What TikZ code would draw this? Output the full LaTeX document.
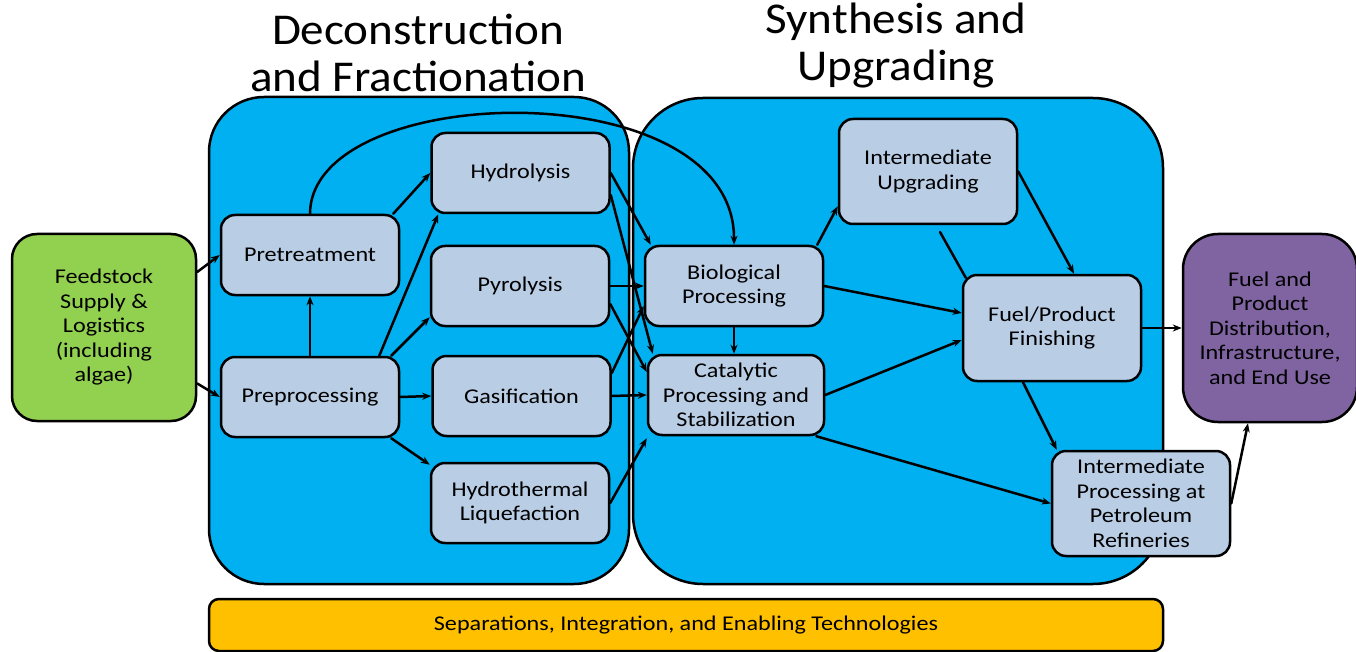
\documentclass[tikz,border=0pt]{standalone}
\usepackage{fontspec}
\setmainfont{Carlito}[FakeStretch=1.15]
\newfontfamily\headingfont{Carlito}[FakeStretch=1.07]
\usetikzlibrary{arrows.meta}
\definecolor{stagecyan}{HTML}{00B0F0}
\definecolor{procblue}{HTML}{B9CDE5}
\definecolor{feedgreen}{HTML}{92D050}
\definecolor{endpurple}{HTML}{8064A2}
\definecolor{baryellow}{HTML}{FFC000}
\tikzset{
proc/.style={draw, line width=2.5pt, rounded corners=14pt, fill=procblue, minimum width=178pt, minimum height=80pt, align=center, inner sep=2pt, font=\fontsize{21}{24.5}\selectfont},
stage/.style={draw, line width=2.5pt, fill=stagecyan},
flow/.style={->, line width=2.5pt},
heading/.style={align=center, font=\headingfont\fontsize{44}{47}\selectfont}
}

\begin{document}
\begin{tikzpicture}[x=1pt, y=-1pt, >={Stealth[length=9pt,width=7pt]}, line cap=round]
\useasboundingbox (0,0) rectangle (1356,652);
\draw [stage, rounded corners=55pt] (209,97) rectangle (629,584);
\draw [stage, rounded corners=70pt] (633,98) rectangle (1163,584);
\node [heading] (decon-title) at (418,53) {Deconstruction\\and Fractionation};
\node [heading] (synth-title) at (896,46) {Synthesis and\\Upgrading};
\node [proc, fill=feedgreen, rounded corners=25pt, minimum width=184pt, minimum height=187pt] (feedstock) at (104,327.5) {Feedstock\\Supply \&\\Logistics\\(including\\algae)};
\node [proc, fill=endpurple, rounded corners=35pt, minimum width=174pt, minimum height=188pt] (enduse) at (1270,328) {Fuel and\\Product\\Distribution,\\Infrastructure,\\and End Use};
\node [proc, fill=baryellow, rounded corners=10pt, minimum width=954pt, minimum height=52pt] (enabling) at (686,625) {Separations, Integration, and Enabling Technologies};
\node [proc] (pretreat) at (310,255) {Pretreatment};
\node [proc] (preproc) at (310,397) {Preprocessing};
\node [proc] (hydrolysis) at (520.5,173) {Hydrolysis};
\node [proc] (pyrolysis) at (520,286) {Pyrolysis};
\node [proc] (gasify) at (521.5,396) {Gasification};
\node [proc] (htl) at (520,503) {Hydrothermal\\Liquefaction};
\node [proc] (bioproc) at (734,286) {Biological\\Processing};
\node [proc, minimum width=176pt] (catproc) at (736,395) {Catalytic\\Processing and\\Stabilization};
\node [proc, minimum height=105pt] (interup) at (928,171.5) {Intermediate\\Upgrading};
\node [proc, minimum height=106pt] (finishing) at (1052,328) {Fuel/Product\\Finishing};
\node [proc, minimum height=105pt] (refinery) at (1141,503.5) {Intermediate\\Processing at\\Petroleum\\Refineries};
\coordinate (interup-foot) at (940,232);
\draw [flow] ([yshift=55.5pt]feedstock.east) -- (pretreat.west);
\draw [flow] ([yshift=-56pt]feedstock.east) -- (preproc.west);
\draw [flow] (preproc.north) -- (pretreat.south);
\draw [flow] ([xshift=-7pt]pretreat.north east) -- (hydrolysis.west);
\draw [flow] ([xshift=-21pt]preproc.north east) -- ([xshift=8pt]hydrolysis.south west);
\draw [flow] ([xshift=-9pt]preproc.north east) -- ([yshift=10pt]pyrolysis.south west);
\draw [flow] (preproc.east) -- (gasify.west);
\draw [flow] ([xshift=-9pt]preproc.south east) -- ([yshift=-3pt]htl.north west);
\draw [flow] (pretreat.north) .. controls (311,80) and (735,70) .. (bioproc.north);
\draw [flow] (hydrolysis.east) -- ([xshift=7pt]bioproc.north west);
\draw [flow] ([yshift=-22pt]hydrolysis.east) -- ([xshift=6pt]catproc.north west);
\draw [flow] (pyrolysis.east) -- (bioproc.west);
\draw [flow] ([yshift=-18pt]pyrolysis.east) -- ([yshift=23pt]catproc.west);
\draw [flow] ([yshift=23pt]gasify.east) -- ([yshift=-20pt]bioproc.west);
\draw [flow] (gasify.east) -- (catproc.west);
\draw [flow] (htl.east) -- ([yshift=-2pt]catproc.south west);
\draw [flow] (bioproc.south) -- (bioproc.south |- catproc.north);
\draw [flow] ([xshift=-7pt]bioproc.north east) -- ([yshift=19pt]interup.south west);
\draw [flow] (bioproc.east) -- ([yshift=15pt]finishing.west);
\draw [flow] (catproc.east) -- ([yshift=-12pt]finishing.west);
\draw [flow] ([xshift=-9pt]catproc.south east) -- (refinery.west);
\draw [flow] (interup.east) -- ([xshift=22pt]finishing.north);
\draw [line width=2.5pt] (interup-foot) -- ([xshift=4pt,yshift=-4pt]finishing.north west);
\draw [flow] (finishing.east) -- (enduse.west);
\draw [flow] ([xshift=-29pt]finishing.south) -- ([xshift=6pt]refinery.north west);
\draw [flow] (refinery.east) -- ([xshift=-22pt]enduse.south);
\end{tikzpicture}
\end{document}
